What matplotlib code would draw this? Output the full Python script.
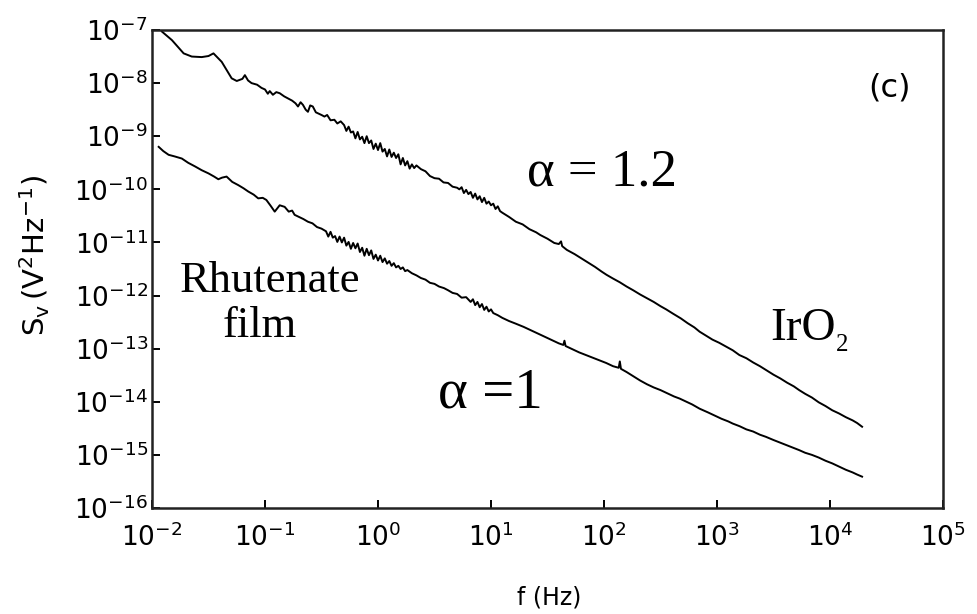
import numpy as np
import matplotlib
matplotlib.use("Agg")
import matplotlib.pyplot as plt
from matplotlib.ticker import NullLocator, LogFormatterSciNotation

# ---- data (log10 values) ----
iro2_logf = [-1.912, -1.824, -1.72, -1.648, -1.56, -1.50, -1.456, -1.42, -1.383, -1.34, -1.295, -1.25,
             -1.20, -1.178, -1.15, -1.119, -1.07, -1.031, -1.00, -0.975, -0.958, -0.93, -0.90, -0.87,
             -0.83, -0.796, -0.76, -0.73, -0.708, -0.685, -0.664, -0.64, -0.62, -0.60, -0.577, -0.55,
             -0.52, -0.50, -0.474, -0.45, -0.42, -0.386, -0.36, -0.33,
             -0.30, -0.28, -0.26, -0.24, -0.22, -0.20, -0.18, -0.16, -0.14, -0.12, -0.10, -0.08,
             -0.06, -0.04, -0.02, 0.00, 0.02, 0.04, 0.06, 0.08, 0.10, 0.12, 0.14, 0.16, 0.18, 0.20,
             0.22, 0.24, 0.26, 0.28, 0.30, 0.32,
             0.34, 0.38, 0.42, 0.46, 0.50, 0.54, 0.58, 0.62, 0.66, 0.70,
             0.72, 0.74, 0.76, 0.78, 0.80, 0.82, 0.84, 0.86, 0.88, 0.90, 0.92, 0.94, 0.96, 0.98,
             1.00, 1.02, 1.04, 1.06, 1.08, 1.10,
             1.16, 1.22, 1.28, 1.34, 1.40, 1.436, 1.50, 1.56, 1.60, 1.62, 1.63, 1.671, 1.74, 1.80,
             1.86, 1.92, 1.98, 2.023, 2.08, 2.14, 2.20, 2.258, 2.32, 2.38, 2.44, 2.50, 2.55, 2.61,
             2.68, 2.74, 2.80, 2.846, 2.90, 2.96, 3.02, 3.08, 3.139, 3.198, 3.26, 3.32, 3.38, 3.433,
             3.50, 3.56, 3.62, 3.68, 3.727, 3.78, 3.84, 3.90, 3.96, 4.02, 4.08, 4.14, 4.20, 4.24, 4.284]
iro2_logS = [-7.03, -7.19, -7.44, -7.50, -7.51, -7.49, -7.44, -7.52, -7.60, -7.75, -7.91, -7.96,
             -7.92, -7.85, -7.95, -8.00, -8.03, -8.09, -8.12, -8.20, -8.15, -8.22, -8.17, -8.19,
             -8.25, -8.29, -8.33, -8.38, -8.44, -8.36, -8.41, -8.50, -8.54, -8.42, -8.44, -8.55,
             -8.58, -8.60, -8.63, -8.60, -8.70, -8.69, -8.76, -8.72,
             -8.79, -8.90, -8.82, -8.93, -8.91, -9.04, -8.92, -9.06, -9.01, -9.13, -9.00, -9.13,
             -9.08, -9.24, -9.14, -9.26, -9.13, -9.29, -9.24, -9.38, -9.25, -9.39, -9.31, -9.41,
             -9.34, -9.53, -9.41, -9.55, -9.47, -9.61, -9.53, -9.60,
             -9.55, -9.62, -9.66, -9.75, -9.79, -9.80, -9.87, -9.88, -9.95, -9.97,
             -10.00, -9.96, -10.07, -10.01, -10.09, -10.05, -10.16, -10.08, -10.19, -10.13, -10.24,
             -10.16, -10.27, -10.23, -10.30, -10.27, -10.37, -10.32, -10.41, -10.44,
             -10.52, -10.61, -10.66, -10.75, -10.81, -10.86, -10.93, -11.01, -11.03, -10.98, -11.07,
             -11.14, -11.22, -11.30, -11.38, -11.46, -11.55, -11.61, -11.68, -11.75, -11.83, -11.90,
             -11.98, -12.05, -12.12, -12.20, -12.26, -12.34, -12.43, -12.52, -12.60, -12.68, -12.75,
             -12.83, -12.89, -12.96, -13.03, -13.12, -13.18, -13.26, -13.33, -13.40, -13.49, -13.56,
             -13.64, -13.71, -13.78, -13.85, -13.92, -14.01, -14.08, -14.16, -14.22, -14.29, -14.35,
             -14.40, -14.47]

ruth_logf = [-1.941, -1.90, -1.853, -1.80, -1.736, -1.68, -1.618, -1.56, -1.50, -1.45, -1.413, -1.38,
             -1.34, -1.29, -1.237, -1.19, -1.149, -1.10, -1.06, -1.02, -0.988, -0.95, -0.914, -0.87,
             -0.826, -0.79, -0.76, -0.738, -0.70, -0.66, -0.62, -0.58, -0.54, -0.50,
             -0.46, -0.44, -0.42, -0.40, -0.38, -0.36, -0.34, -0.32, -0.30, -0.28, -0.26, -0.24,
             -0.22, -0.20, -0.18, -0.16, -0.14, -0.12, -0.10, -0.08, -0.06, -0.04, -0.02, 0.00,
             0.02, 0.04, 0.06, 0.08, 0.10, 0.12, 0.14, 0.16, 0.18, 0.20, 0.22, 0.24, 0.26, 0.30,
             0.34, 0.38, 0.42, 0.46, 0.50, 0.54, 0.584,
             0.62, 0.66, 0.70, 0.74, 0.78, 0.82, 0.84, 0.86, 0.88, 0.90, 0.92, 0.94, 0.96, 0.98,
             1.00, 1.02, 1.06, 1.10, 1.16, 1.22, 1.289, 1.36, 1.42, 1.48, 1.54, 1.60, 1.64, 1.65,
             1.66, 1.72, 1.78, 1.84, 1.90, 1.96, 2.02, 2.08, 2.13, 2.14, 2.15, 2.20, 2.26, 2.32,
             2.38, 2.44, 2.50, 2.56, 2.62, 2.67, 2.72, 2.78, 2.846, 2.92, 2.98, 3.04, 3.10, 3.139,
             3.20, 3.26, 3.32, 3.38, 3.433, 3.50, 3.56, 3.62, 3.68, 3.727, 3.78, 3.84, 3.90, 3.96,
             4.02, 4.08, 4.14, 4.20, 4.24, 4.284]
ruth_logS = [-9.20, -9.28, -9.35, -9.38, -9.42, -9.50, -9.57, -9.64, -9.70, -9.76, -9.81, -9.78,
             -9.76, -9.86, -9.92, -9.98, -10.04, -10.10, -10.17, -10.16, -10.20, -10.31, -10.42,
             -10.30, -10.33, -10.42, -10.40, -10.48, -10.52, -10.56, -10.61, -10.64, -10.71, -10.74,
             -10.79, -10.89, -10.80, -10.91, -10.88, -10.99, -10.89, -11.00, -10.91, -11.06, -10.99,
             -11.12, -11.01, -11.11, -11.02, -11.18, -11.10, -11.25, -11.12, -11.24, -11.15, -11.31,
             -11.23, -11.34, -11.25, -11.37, -11.30, -11.40, -11.35, -11.44, -11.39, -11.47, -11.44,
             -11.50, -11.47, -11.54, -11.52, -11.58,
             -11.62, -11.67, -11.70, -11.76, -11.78, -11.83, -11.86,
             -11.90, -11.95, -11.97, -12.04, -12.03, -12.12, -12.07, -12.18, -12.12, -12.22, -12.16,
             -12.27, -12.21, -12.30, -12.26, -12.33, -12.37, -12.42, -12.48, -12.53, -12.59, -12.66,
             -12.72, -12.78, -12.84, -12.90, -12.93, -12.85, -12.95, -13.01, -13.07, -13.12, -13.17,
             -13.22, -13.27, -13.33, -13.36, -13.24, -13.38, -13.44, -13.52, -13.60, -13.67, -13.73,
             -13.78, -13.84, -13.90, -13.94, -13.99, -14.05, -14.13, -14.20, -14.26, -14.32, -14.37,
             -14.41, -14.46, -14.52, -14.56, -14.62, -14.66, -14.72, -14.77, -14.82, -14.87, -14.91,
             -14.96, -15.00, -15.05, -15.11, -15.16, -15.22, -15.28, -15.33, -15.37, -15.41]

x_decades = list(range(-2, 6))
y_decades = list(range(-16, -6))

# ---- figure ----
plt.rcParams['font.family'] = ['DejaVu Sans']
fig = plt.figure(figsize=(9.78, 6.14), dpi=100)
ax = fig.add_axes([152/978, 1 - 508/614, 791/978, 478/614])

ax.plot(10.0**np.array(iro2_logf), 10.0**np.array(iro2_logS), color='black', lw=1.4)
ax.plot(10.0**np.array(ruth_logf), 10.0**np.array(ruth_logS), color='black', lw=1.4)

ax.set_xscale('log')
ax.set_yscale('log')
ax.set_xlim(10.0**x_decades[0], 10.0**x_decades[-1])
ax.set_ylim(10.0**y_decades[0], 10.0**y_decades[-1])
ax.set_xticks([10.0**d for d in x_decades])
ax.set_yticks([10.0**d for d in y_decades])
ax.xaxis.set_minor_locator(NullLocator())
ax.yaxis.set_minor_locator(NullLocator())
ax.xaxis.set_major_formatter(LogFormatterSciNotation())
ax.yaxis.set_major_formatter(LogFormatterSciNotation())

ax.tick_params(axis='both', which='major', direction='in', length=6, width=1.4,
               labelsize=19, colors='black')
ax.tick_params(axis='x', pad=11)
ax.tick_params(axis='y', pad=3)
for s in ax.spines.values():
    s.set_linewidth(1.8)
    s.set_color('#222222')

# axis labels
fig.text(35/978, 1 - 256/614, r'$\mathregular{S_v\,(V^2Hz^{-1})}$', rotation=90,
         ha='center', va='center', fontsize=21)
fig.text(549/978, 1 - 597/614, 'f (Hz)', ha='center', va='center', fontsize=17)
fig.text(890/978, 1 - 88/614, '(c)', ha='center', va='center', fontsize=23)

serif = ['Liberation Serif', 'DejaVu Serif']
def ax_txt(px, py, s, size=32, **kw):
    ax.text((px - 152) / 791, (508 - py) / 478, s, transform=ax.transAxes,
            family=serif, fontsize=size, ha='left', va='baseline', **kw)

ax_txt(180, 292, 'Rhutenate')
ax_txt(223, 337, 'film')
ax_txt(527, 185, 'α = 1.2', size=38)
ax_txt(438, 408, 'α =1', size=41)
ax_txt(770, 340, 'IrO', size=34)
ax_txt(836, 351, '2', size=18)

fig.savefig('out.png', dpi=100)
